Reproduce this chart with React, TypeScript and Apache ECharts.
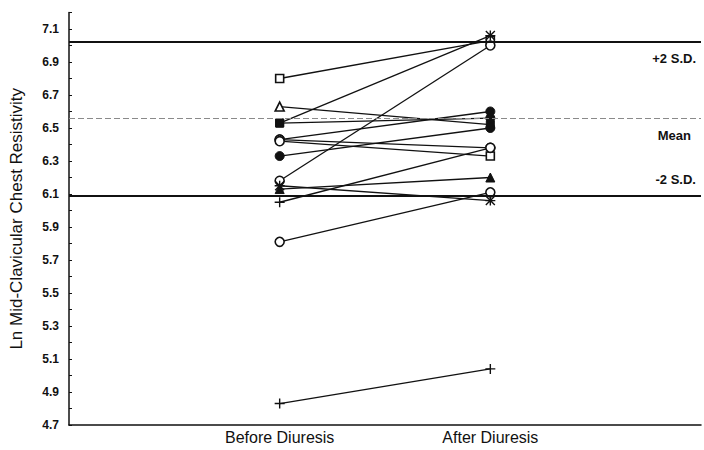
import React, { useEffect, useRef } from "react";
import * as echarts from "echarts";

const categories = ["Before Diuresis", "After Diuresis"];
const yTickLabels = ["4.7", "4.9", "5.1", "5.3", "5.5", "5.7", "5.9", "6.1", "6.3", "6.5", "6.7", "6.9", "7.1"];

const beforeValues = [6.80, 6.53, 6.18, 6.63, 6.53, 6.43, 6.43, 6.42, 6.33, 6.13, 6.05, 6.15, 5.81, 4.83];
const afterValues = [7.03, 7.06, 7.00, 6.52, 6.56, 6.60, 6.38, 6.33, 6.50, 6.20, 6.38, 6.06, 6.11, 5.04];
const beforeMarkers = ["sq", "sqf", "ci", "tri", "sqf", "ci", "ci", "ci", "cif", "trif", "plus", "ast", "ci", "plus"];
const afterMarkers = ["sq", "ast", "ci", "sqf", "cif", "cif", "ci", "sq", "cif", "trif", "ci", "ast", "ci", "plus"];

const refLabels = ["+2 S.D.", "Mean", "-2 S.D."];
const refValues = [7.02, 6.56, 6.09];

const PLUS = "path://M4.3,0H5.7V4.3H10V5.7H5.7V10H4.3V5.7H0V4.3H4.3Z";
const AST =
  "path://M4.3,0H5.7V10H4.3Z M0,4.3H10V5.7H0Z M1,0L10,9L9,10L0,1Z M9,0L10,1L1,10L0,9Z";

function markerStyle(m: string) {
  const ink = "#111";
  switch (m) {
    case "sq":
      return { symbol: "rect", symbolSize: 8, itemStyle: { color: "#fff", borderColor: ink, borderWidth: 1.6 } };
    case "sqf":
      return { symbol: "rect", symbolSize: 8, itemStyle: { color: ink, borderColor: ink, borderWidth: 1 } };
    case "ci":
      return { symbol: "circle", symbolSize: 9, itemStyle: { color: "#fff", borderColor: ink, borderWidth: 1.6 } };
    case "cif":
      return { symbol: "circle", symbolSize: 9, itemStyle: { color: ink, borderColor: ink, borderWidth: 1 } };
    case "tri":
      return { symbol: "triangle", symbolSize: 9, itemStyle: { color: "#fff", borderColor: ink, borderWidth: 1.6 } };
    case "trif":
      return { symbol: "triangle", symbolSize: 9, itemStyle: { color: ink, borderColor: ink, borderWidth: 1 } };
    case "plus":
      return { symbol: PLUS, symbolSize: 10, itemStyle: { color: ink, borderWidth: 0 } };
    default:
      return { symbol: AST, symbolSize: 10, itemStyle: { color: ink, borderWidth: 0 } };
  }
}

export default function App() {
  const ref = useRef<HTMLDivElement>(null);
  useEffect(() => {
    document.body.style.margin = "0";
    if (!ref.current) return;
    const chart = echarts.init(ref.current, undefined, { renderer: "svg" });
    const font = "Liberation Sans, Arial, sans-serif";

    const lineSeries = beforeValues.map((b, i) => ({
      type: "line",
      silent: true,
      z: 3,
      lineStyle: { color: "#111", width: 1.3 },
      data: [
        { value: [1, b], ...markerStyle(beforeMarkers[i]) },
        { value: [2, afterValues[i]], ...markerStyle(afterMarkers[i]) },
      ],
    }));

    const positions = ["insideEndBottom", "insideEndBottom", "insideEndTop"];
    const distances = [[5, 10], [10, 11], [5, 10]];
    const refSeries = {
      type: "line",
      data: [],
      silent: true,
      z: 1,
      markLine: {
        silent: true,
        symbol: ["none", "none"],
        animation: false,
        data: refValues.map((v, i) => ({
          yAxis: v,
          lineStyle:
            i === 1
              ? { color: "#8a8a8a", width: 1.2, type: [6, 3] }
              : { color: "#111", width: 1.8, type: "solid" },
          label: {
            show: true,
            formatter: refLabels[i],
            position: positions[i],
            distance: distances[i],
            color: "#111",
            fontSize: 13,
            fontFamily: font,
            fontWeight: "bold",
          },
        })),
      },
    };

    chart.setOption({
      animation: false,
      grid: { left: 68, right: 0, top: 12.5, bottom: 25 },
      xAxis: {
        type: "value",
        min: 0,
        max: 3,
        interval: 1,
        splitLine: { show: false },
        axisTick: { show: false },
        axisLine: { lineStyle: { color: "#111", width: 1.5 } },
        axisLabel: {
          margin: 4,
          color: "#111",
          fontSize: 16,
          fontFamily: font,
          formatter: (v: number) => (v === 1 ? categories[0] : v === 2 ? categories[1] : ""),
        },
      },
      yAxis: {
        type: "value",
        min: 4.7,
        max: 7.2,
        interval: 0.1,
        name: "Ln Mid-Clavicular Chest Resistivity",
        nameLocation: "middle",
        nameGap: 44,
        nameTextStyle: { color: "#111", fontSize: 17, fontFamily: font },
        splitLine: { show: false },
        axisLine: { show: true, lineStyle: { color: "#111", width: 1.5 } },
        axisTick: { show: true, inside: true, length: 3, lineStyle: { color: "#111" } },
        axisLabel: {
          margin: 10,
          color: "#111",
          fontSize: 12,
          fontWeight: "bold",
          fontFamily: font,
          formatter: (v: number) => {
            const s = v.toFixed(1);
            return yTickLabels.indexOf(s) >= 0 ? s : "";
          },
        },
      },
      series: [refSeries, ...lineSeries],
    });
    return () => chart.dispose();
  }, []);
  return <div ref={ref} style={{ width: 704, height: 450, background: "#fff" }} />;
}
